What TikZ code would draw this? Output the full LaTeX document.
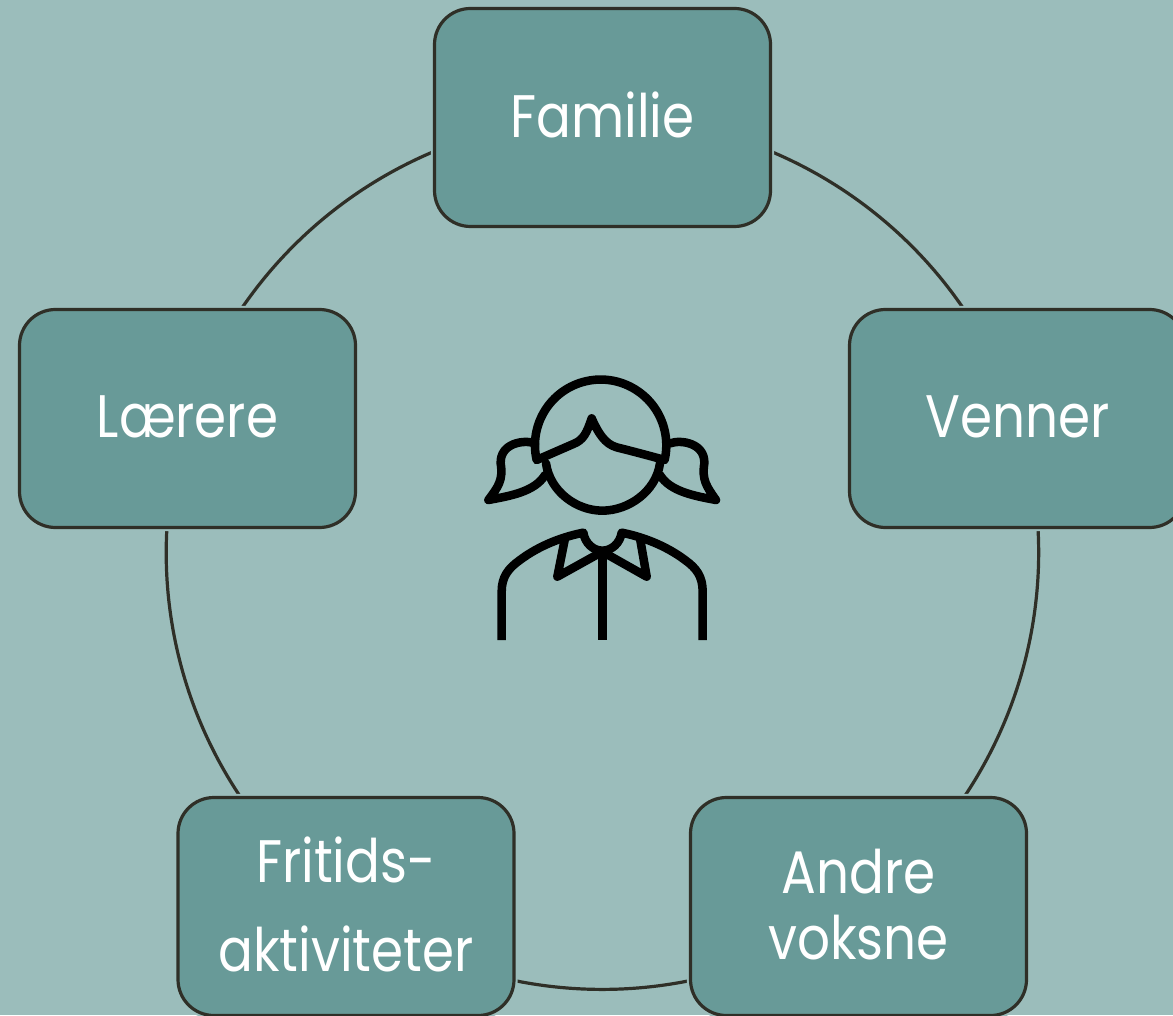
\documentclass[tikz,border=0pt]{standalone}
\usepackage{fontspec}
\usetikzlibrary{backgrounds}
\setmainfont{Poppins}[FakeStretch=0.86]
\definecolor{ringbg}{HTML}{9BBDBB}
\definecolor{boxfill}{HTML}{689A98}
\definecolor{boxline}{HTML}{2F2F27}
\begin{document}
\begin{tikzpicture}[
    x=0.75pt,
    y=0.75pt,
    block/.style={
      rectangle,
      draw=boxline,
      line width=2.4pt,
      fill=boxfill,
      text=white,
      align=center,
      rounded corners=27pt,
      minimum width=252pt,
      minimum height=163.5pt,
      text depth=3.5pt,
      font=\fontsize{45pt}{50pt}\selectfont,
      preaction={draw=ringbg,line width=5.6pt}
    },
    ring/.style={
      draw=boxline,
      line width=2.4pt,
      bend left=36,
      looseness=0.941
    },
    icon/.style={
      draw=black,
      line width=6.4pt,
      line join=round,
      line cap=round
    }
]
\useasboundingbox (0,0) rectangle (1173,1015);
\clip (0,0) rectangle (1173,1015);

\node[block] (familie) at (602.5,897.5) {Familie};
\node[block] (venner) at (1017.5,596.5) {Venner};
\node[block] (andre) at (858.5,108.5) {Andre\\voksne};
\node[block] (fritids) at (346,108.5) {Fritids-\\[17pt]aktiviteter};
\node[block] (laerere) at (187.5,596.5) {Lærere};

\begin{pgfonlayer}{background}
\fill[ringbg] (0,0) rectangle (1173,1015);
\draw[ring] (familie.center) to (venner.center);
\draw[ring] (venner.center) to (andre.center);
\draw[ring] (andre.center) to (fritids.center);
\draw[ring] (fritids.center) to (laerere.center);
\draw[ring] (laerere.center) to (familie.center);
\end{pgfonlayer}

\begin{scope}[shift={(470,655)},x=0.25pt,y=-0.25pt]
\draw[icon] (200,300) arc[start angle=167,end angle=373,radius=197]
  .. controls (530,285) and (480,272) .. (440,262)
  .. controls (405,252) and (385,220) .. (365,175)
  .. controls (350,220) and (340,240) .. (310,252) -- cycle;
\draw[icon] (228,310) .. controls (240,395) and (320,452) .. (397,452)
  .. controls (475,452) and (558,395) .. (570,310);
\draw[icon] (195,250) .. controls (160,238) and (90,250) .. (92,310)
  .. controls (100,360) and (85,380) .. (55,420)
  .. controls (120,408) and (195,395) .. (225,345);
\draw[icon] (600,250) .. controls (635,238) and (705,250) .. (703,310)
  .. controls (695,360) and (710,380) .. (738,420)
  .. controls (675,408) and (600,395) .. (570,345);
\draw[icon,line cap=butt] (95,840) -- (95,695)
  .. controls (95,650) and (115,625) .. (150,600)
  .. controls (210,555) and (280,530) .. (340,518)
  .. controls (345,550) and (370,572) .. (397,572)
  .. controls (425,572) and (450,550) .. (455,518)
  .. controls (515,530) and (585,555) .. (645,600)
  .. controls (680,625) and (698,650) .. (698,695) -- (698,840);
\draw[icon] (285,535) -- (262,650) -- (397,575) -- (530,650) -- (510,535);
\draw[icon,line cap=butt] (397,575) -- (397,840);
\end{scope}
\end{tikzpicture}
\end{document}
